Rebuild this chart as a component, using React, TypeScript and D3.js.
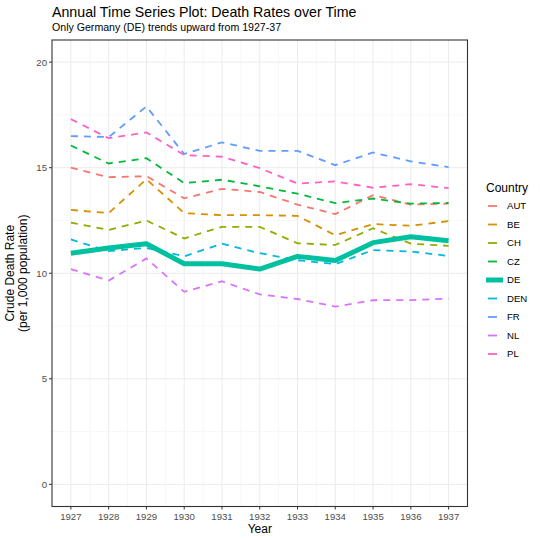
import React from "react";
import * as d3 from "d3";

const years = [1927, 1928, 1929, 1930, 1931, 1932, 1933, 1934, 1935, 1936, 1937];
const countries = ["AUT", "BE", "CH", "CZ", "DE", "DEN", "FR", "NL", "PL"];
const colors = ["#F8766D", "#D39200", "#93AA00", "#00BA38", "#00C19F", "#00B9E3", "#619CFF", "#DB72FB", "#FF61C3"];

const AUT = [15.0, 14.55, 14.6, 13.55, 14.0, 13.85, 13.25, 12.8, 13.7, 13.25, 13.3];
const BE = [13.0, 12.85, 14.45, 12.85, 12.75, 12.75, 12.72, 11.8, 12.33, 12.25, 12.47];
const CH = [12.4, 12.05, 12.5, 11.65, 12.2, 12.2, 11.42, 11.34, 12.13, 11.4, 11.3];
const CZ = [16.05, 15.2, 15.45, 14.27, 14.43, 14.12, 13.77, 13.32, 13.54, 13.3, 13.33];
const DE = [10.95, 11.2, 11.4, 10.45, 10.45, 10.2, 10.8, 10.6, 11.45, 11.73, 11.54];
const DEN = [11.6, 11.05, 11.2, 10.8, 11.4, 10.95, 10.62, 10.43, 11.1, 11.03, 10.82];
const FR = [16.5, 16.45, 17.9, 15.65, 16.2, 15.8, 15.8, 15.12, 15.72, 15.3, 15.03];
const NL = [10.2, 9.65, 10.7, 9.12, 9.62, 9.0, 8.78, 8.42, 8.72, 8.73, 8.8];
const PL = [17.3, 16.4, 16.67, 15.6, 15.52, 14.98, 14.25, 14.35, 14.05, 14.22, 14.03];

const seriesValues = [AUT, BE, CH, CZ, DE, DEN, FR, NL, PL];
const yTicks = [0, 5, 10, 15, 20];
const yMinor = [2.5, 7.5, 12.5, 17.5];

const title = "Annual Time Series Plot: Death Rates over Time";
const subtitle = "Only Germany (DE) trends upward from 1927-37";

export default function App() {
  const W = 540, H = 540;
  const left = 52, right = 467.5, top = 40, bottom = 506.5;
  const x = d3.scaleLinear().domain([1926.5, 1937.5]).range([left, right]);
  const y = d3.scaleLinear().domain([-1.05, 21.05]).range([bottom, top]);
  const line = d3.line<number>().x((_, i) => x(years[i])).y((v) => y(v));
  const font = "Liberation Sans, Arial, sans-serif";
  const xMinor = years.slice(0, -1).map((yr) => yr + 0.5);
  const order = countries.map((_, i) => i).filter((i) => countries[i] !== "DE");
  const deIdx = countries.indexOf("DE");
  const legX = 486, legY0 = 206, legStep = 18.5;

  return (
    <svg width={W} height={H} style={{ position: "absolute", left: 0, top: 0, background: "#fff" }} fontFamily={font}>
      <rect x={0} y={0} width={W} height={H} fill="#fff" />
      <text x={52} y={17} fontSize={14.2} fill="#000">{title}</text>
      <text x={52} y={31} fontSize={10.6} fill="#000">{subtitle}</text>
      <clipPath id="pc"><rect x={left} y={top} width={right - left} height={bottom - top} /></clipPath>
      {/* grid */}
      {yMinor.map((v) => (
        <line key={"ym" + v} x1={left} x2={right} y1={y(v)} y2={y(v)} stroke="#F2F2F2" strokeWidth={0.6} />
      ))}
      {xMinor.map((v) => (
        <line key={"xm" + v} y1={top} y2={bottom} x1={x(v)} x2={x(v)} stroke="#F2F2F2" strokeWidth={0.6} />
      ))}
      {yTicks.map((v) => (
        <line key={"yg" + v} x1={left} x2={right} y1={y(v)} y2={y(v)} stroke="#EBEBEB" strokeWidth={1} />
      ))}
      {years.map((v) => (
        <line key={"xg" + v} y1={top} y2={bottom} x1={x(v)} x2={x(v)} stroke="#EBEBEB" strokeWidth={1} />
      ))}
      {/* series */}
      <g clipPath="url(#pc)">
        {order.map((i) => (
          <path key={countries[i]} d={line(seriesValues[i]) || ""} fill="none" stroke={colors[i]}
            strokeWidth={1.8} strokeDasharray="7 6" />
        ))}
        <path d={line(seriesValues[deIdx]) || ""} fill="none" stroke={colors[deIdx]} strokeWidth={5} strokeLinejoin="round" />
      </g>
      <rect x={left} y={top} width={right - left} height={bottom - top} fill="none" stroke="#333" strokeWidth={1.1} />
      {/* y axis */}
      {yTicks.map((v) => (
        <g key={"yt" + v}>
          <line x1={left - 3} x2={left} y1={y(v)} y2={y(v)} stroke="#333" strokeWidth={1} />
          <text x={left - 5} y={y(v)} dy="0.35em" textAnchor="end" fontSize={9.6} fill="#4D4D4D">{v}</text>
        </g>
      ))}
      {years.map((v) => (
        <g key={"xt" + v}>
          <line x1={x(v)} x2={x(v)} y1={bottom} y2={bottom + 3} stroke="#333" strokeWidth={1} />
          <text x={x(v)} y={bottom + 13} textAnchor="middle" fontSize={9.6} fill="#4D4D4D">{v}</text>
        </g>
      ))}
      <text x={(left + right) / 2} y={533} textAnchor="middle" fontSize={12} fill="#000">Year</text>
      <g transform={`translate(14,${(top + bottom) / 2}) rotate(-90)`}>
        <text x={0} y={0} textAnchor="middle" fontSize={12} fill="#000">Crude Death Rate</text>
        <text x={0} y={13} textAnchor="middle" fontSize={12} fill="#000">(per 1,000 population)</text>
      </g>
      {/* legend */}
      <text x={legX} y={192} fontSize={12} fill="#000">Country</text>
      {countries.map((c, i) => {
        const ly = legY0 + i * legStep;
        return (
          <g key={"lg" + c}>
            {c === "DE" ? (
              <line x1={legX} x2={legX + 17} y1={ly} y2={ly} stroke={colors[i]} strokeWidth={5} />
            ) : (
              <line x1={legX + 2} x2={legX + 11} y1={ly} y2={ly} stroke={colors[i]} strokeWidth={1.8} />
            )}
            <text x={legX + 21} y={ly} dy="0.35em" fontSize={9.6} fill="#000">{c}</text>
          </g>
        );
      })}
    </svg>
  );
}
